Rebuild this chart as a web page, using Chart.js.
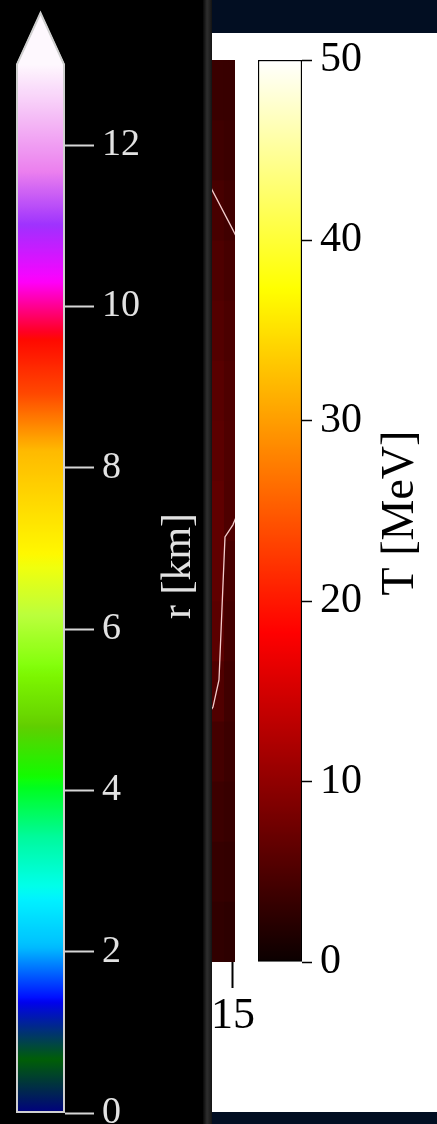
<!DOCTYPE html>
<html><head><meta charset="utf-8">
<script src="https://cdn.jsdelivr.net/npm/chart.js@4/dist/chart.umd.min.js"></script>
<style>
html,body{margin:0;padding:0;}
body{width:437px;height:1124px;position:relative;overflow:hidden;background:#fff;}
.abs{position:absolute;}
</style></head><body>
<div class="abs" style="left:212px;top:0;width:225px;height:33px;background:#020e22"></div>
<div class="abs" style="left:212px;top:1112px;width:225px;height:12px;background:#020e22"></div>
<div class="abs" style="left:212px;top:0;width:60px;height:1124px"><canvas id="mid"></canvas></div>
<div class="abs" style="left:240px;top:0;width:197px;height:1124px"><canvas id="right"></canvas></div>
<div class="abs" style="left:0;top:0;width:204px;height:1124px;background:#000"><canvas id="left"></canvas></div>
<div class="abs" style="left:203px;top:0;width:9px;height:1124px;background:linear-gradient(to right,#080808 0%,#2e2e2e 45%,#242424 70%,#131313 100%)"></div>
<script>
// ---------- data ----------
const rTicks = [0, 2, 4, 6, 8, 10, 12];
const rMax = 13;
const tTicks = [0, 10, 20, 30, 40, 50];
const tMax = 50;
const xTicks = [15];
const xEdges = [14.3, 14.7, 15.07];
const yEdges = [15, 13, 11, 9, 7, 5, 3, 1, -1, -3, -5, -7, -9, -11, -13, -15];
const tInner = [3.5, 3.9, 4.5, 5.0, 5.4, 5.8, 6.0, 6.3, 6.3, 6.0, 5.2, 4.3, 3.7, 3.2, 2.8];
const tOuter = [3.4, 3.6, 4.0, 4.4, 4.8, 5.0, 5.1, 5.0, 4.6, 4.3, 4.0, 3.7, 3.4, 3.0, 2.6];
const contourA = [{x:14.2,y:10.9},{x:14.3,y:10.68},{x:15.0,y:9.35},{x:15.15,y:9.05}];
const contourB = [{x:15.15,y:-0.1},{x:15.0,y:-0.46},{x:14.735,y:-0.86},{x:14.635,y:-3.22},{x:14.534,y:-5.62},{x:14.333,y:-6.52},{x:14.23,y:-6.68}];

// ---------- colormaps ----------
const NCAR = {
  r:[[0,0],[0.3098,0],[0.3725,0.3993],[0.4235,0.5003],[0.5333,1],[0.7922,1],[0.8471,0.6218],[0.8980,0.9235],[1,0.9961]],
  g:[[0,0],[0.0510,0.3722],[0.1059,0],[0.1569,0.7202],[0.1608,0.7537],[0.1647,0.7752],[0.2157,1],[0.2588,0.9804],[0.2706,0.9804],[0.3176,1],[0.3686,0.8081],[0.4275,1],[0.5216,1],[0.6314,0.7292],[0.6863,0.2796],[0.7451,0],[0.7922,0],[0.8431,0.1753],[0.8980,0.5],[1,0.9725]],
  b:[[0,0.502],[0.0510,0.0222],[0.1098,1],[0.2039,1],[0.2627,0.6145],[0.3216,0],[0.4157,0],[0.4745,0.2342],[0.5333,0],[0.5804,0],[0.6314,0],[0.6902,0],[0.7373,0],[0.7922,0.9738],[0.8,1],[0.8431,1],[0.8980,0.9341],[1,0.9961]]
};
const HOT = {
  r:[[0,0.0416],[0.365079,1],[1,1]],
  g:[[0,0],[0.365079,0],[0.746032,1],[1,1]],
  b:[[0,0],[0.746032,0],[1,1]]
};
function seg(s, v){
  for (let i = 1; i < s.length; i++) {
    if (v <= s[i][0]) { const [x0,y0] = s[i-1], [x1,y1] = s[i]; return y0 + (y1-y0)*(v-x0)/(x1-x0); }
  }
  return s[s.length-1][1];
}
function cmap(m, v){
  v = Math.max(0, Math.min(1, v));
  return 'rgb(' + Math.round(seg(m.r,v)*255) + ',' + Math.round(seg(m.g,v)*255) + ',' + Math.round(seg(m.b,v)*255) + ')';
}
function gradientFor(chart, m, vmax){
  const {ctx, chartArea, scales} = chart;
  if (!chartArea) return cmap(m, 0.5);
  const y0 = scales.y.getPixelForValue(0), y1 = scales.y.getPixelForValue(vmax);
  const g = ctx.createLinearGradient(0, y0, 0, y1);
  for (let i = 0; i <= 400; i++) { const t = i/400; g.addColorStop(t, cmap(m, t)); }
  return g;
}

const SERIF = "'Liberation Serif','DejaVu Serif',serif";
Chart.defaults.font.family = SERIF;

const vtitle = {
  id: 'vtitle',
  afterDraw(chart, args, o){
    if (!o || !o.text) return;
    const c = chart.ctx; c.save();
    c.translate(o.x, o.y); c.rotate(-Math.PI/2);
    c.font = o.font; c.fillStyle = o.color; c.textAlign = 'center'; c.textBaseline = 'middle';
    c.fillText(o.text, 0, 0); c.restore();
  }
};
Chart.register(vtitle);

function zeroPad(s){ s.paddingLeft = 0; s.paddingRight = 0; s.paddingTop = 0; s.paddingBottom = 0; }

// ---------- left colorbar (r) ----------
const extendFrac = 0.05;
new Chart(document.getElementById('left'), {
  type: 'bar',
  data: { labels: ['r'], datasets: [{
    data: [rMax],
    backgroundColor: c => gradientFor(c.chart, NCAR, rMax),
    borderWidth: 0, barPercentage: 1, categoryPercentage: 1
  }]},
  options: {
    responsive: true, maintainAspectRatio: false, animation: false,
    layout: { padding: { top: 12, bottom: 11, left: 16, right: 0 } },
    plugins: { legend: {display:false}, tooltip: {enabled:false},
      vtitle: { text: 'r [km]', x: 179, y: 566, font: "42px 'Liberation Serif','DejaVu Serif',serif", color: '#e2e2e2' } },
    scales: {
      x: { display: false },
      y: { position: 'right', min: 0, max: rMax*(1+extendFrac),
        afterBuildTicks: s => { s.ticks = rTicks.map(v => ({value: v})); },
        afterFit: s => { s.width = 139; zeroPad(s); },
        grid: { drawOnChartArea: false, drawTicks: true, tickLength: 29, tickColor: '#d6d6d6', tickWidth: 2 },
        border: { display: false },
        ticks: { color: '#e2e2e2', padding: 8, font: { size: 38, family: SERIF } }
      }
    }
  },
  plugins: [{
    id: 'extendArrow',
    afterDatasetsDraw(chart){
      const {ctx, chartArea: a, scales: {y}} = chart;
      const yb = y.getPixelForValue(0), yt = y.getPixelForValue(rMax), tip = a.top, xm = (a.left + a.right)/2;
      ctx.save();
      ctx.beginPath(); ctx.moveTo(a.left, yt + 0.5); ctx.lineTo(xm, tip); ctx.lineTo(a.right, yt + 0.5); ctx.closePath();
      ctx.fillStyle = cmap(NCAR, 1); ctx.fill();
      ctx.beginPath();
      ctx.moveTo(a.left + 1, yb - 1); ctx.lineTo(a.left + 1, yt); ctx.lineTo(xm, tip + 1); ctx.lineTo(a.right - 1, yt); ctx.lineTo(a.right - 1, yb - 1); ctx.closePath();
      ctx.strokeStyle = '#cfcfcf'; ctx.lineWidth = 2; ctx.lineJoin = 'miter'; ctx.stroke();
      ctx.restore();
    }
  }]
});

// ---------- middle heatmap strip ----------
const midSets = [];
yEdges.slice(0, -1).forEach((top, i) => {
  midSets.push({ data: [{x: xEdges[0], y: top}, {x: xEdges[2], y: top}], fill: {value: yEdges[yEdges.length-1]},
    backgroundColor: cmap(HOT, tOuter[i]/tMax), borderWidth: 0, borderColor: 'rgba(0,0,0,0)', pointRadius: 0, order: 200 - i });
  midSets.push({ data: [{x: xEdges[0], y: top}, {x: xEdges[1], y: top}], fill: {value: yEdges[yEdges.length-1]},
    backgroundColor: cmap(HOT, tInner[i]/tMax), borderWidth: 0, borderColor: 'rgba(0,0,0,0)', pointRadius: 0, order: 100 - i });
});
[contourA, contourB].forEach(c => midSets.push({ data: c, borderColor: '#f2cccc', borderWidth: 1.3, pointRadius: 0, fill: false, tension: 0, order: 0 }));

new Chart(document.getElementById('mid'), {
  type: 'line',
  data: { datasets: midSets },
  options: {
    responsive: true, maintainAspectRatio: false, animation: false,
    layout: { padding: { top: 60, bottom: 0, left: 0, right: 37 } },
    plugins: { legend: {display:false}, tooltip: {enabled:false} },
    scales: {
      x: { type: 'linear', min: xEdges[0], max: xEdges[2],
        afterBuildTicks: s => { s.ticks = xTicks.map(v => ({value: v})); },
        afterFit: s => { s.height = 162; zeroPad(s); },
        grid: { drawOnChartArea: false, drawTicks: true, tickLength: 26, tickColor: '#000', tickWidth: 2 },
        border: { display: false },
        ticks: { color: '#000', padding: 2, maxRotation: 0, autoSkip: false, font: { size: 44, family: SERIF } }
      },
      y: { type: 'linear', min: yEdges[yEdges.length-1], max: yEdges[0], display: false }
    }
  }
});

// ---------- right colorbar (T) ----------
new Chart(document.getElementById('right'), {
  type: 'bar',
  data: { labels: ['T'], datasets: [{
    data: [tMax],
    backgroundColor: c => gradientFor(c.chart, HOT, tMax),
    borderColor: '#000', borderWidth: 1.5, borderSkipped: false, barPercentage: 1, categoryPercentage: 1
  }]},
  options: {
    responsive: true, maintainAspectRatio: false, animation: false,
    layout: { padding: { top: 60, bottom: 162, left: 18, right: 0 } },
    plugins: { legend: {display:false}, tooltip: {enabled:false},
      vtitle: { text: 'T [MeV]', x: 161, y: 513, font: "46px 'Liberation Serif','DejaVu Serif',serif", color: '#000' } },
    scales: {
      x: { display: false },
      y: { position: 'right', min: 0, max: tMax,
        afterBuildTicks: s => { s.ticks = tTicks.map(v => ({value: v})); },
        afterFit: s => { s.width = 135; zeroPad(s); },
        grid: { drawOnChartArea: false, drawTicks: true, tickLength: 10, tickColor: '#000', tickWidth: 1.5 },
        border: { display: false },
        ticks: { color: '#000', padding: 8, font: { size: 42, family: SERIF } }
      }
    }
  }
});
</script>
</body></html>
